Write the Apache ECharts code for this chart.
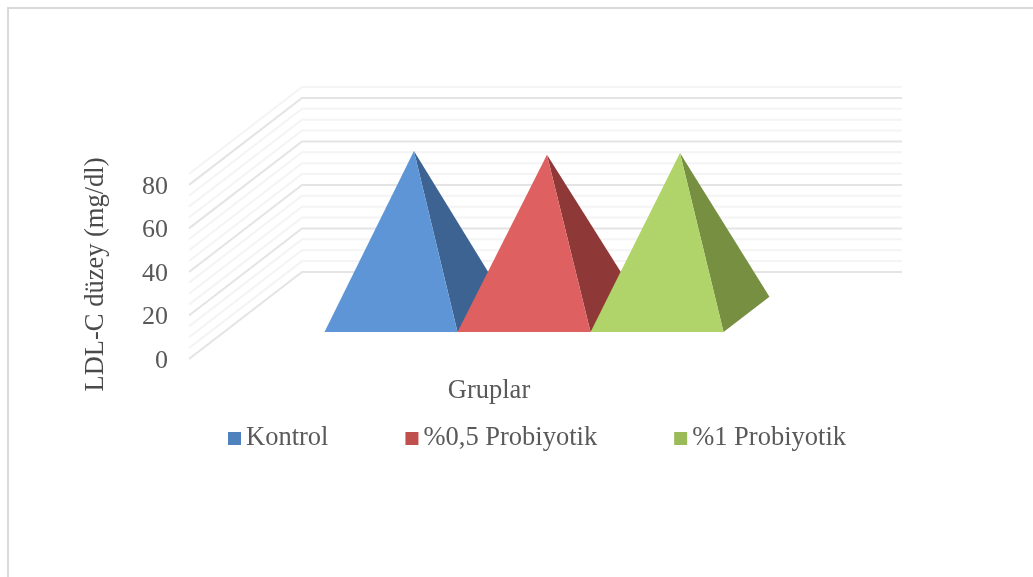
<!DOCTYPE html>
<html>
<head>
<meta charset="utf-8">
<style>html,body{margin:0;padding:0;background:#fff;overflow:hidden}#c{width:1033px;height:577px}</style>
<script src="https://cdn.jsdelivr.net/npm/echarts@6/dist/echarts.min.js"></script>
</head>
<body>
<div id="c"></div>
<script>
var categories = ['Gruplar'];
var seriesNames = ['Kontrol', '%0,5 Probiyotik', '%1 Probiyotik'];
var kontrol = [75.1];
var probiyotik05 = [73.3];
var probiyotik1 = [74.1];
var gridValues = [0,5,10,15,20,25,30,35,40,45,50,55,60,65,70,75,80,85];
var majorValues = [0,20,40,60,80];
var frontColors = ['#5e95d7', '#df6060', '#b0d46a'];
var sideColors = ['#3c6391', '#8f3838', '#768f40'];
var legendColors = ['#4f81bd', '#c0504d', '#9bbb59'];

var FONT = '"Liberation Serif", serif';
var DX = 113, DY = 87;
var D_FRONT = 0.31, D_BACK = 0.716, D_MID = 0.513;
var BAR_FRACTION = 0.2217;

function renderWall(params, api) {
  var v = api.value(0);
  var y = api.coord([0, v])[1];
  var cs = params.coordSys;
  var major = majorValues.indexOf(v) >= 0;
  return {
    type: 'polyline',
    silent: true,
    shape: { points: [[cs.x, y], [cs.x + DX, y - DY], [cs.x + cs.width + DX, y - DY]] },
    style: { fill: null, stroke: major ? '#e4e4e4' : '#f4f4f4', lineWidth: 2 }
  };
}

function renderPyramid(params, api) {
  var i = params.seriesIndex - 1;
  var base = api.coord([0, 0]);
  var top = api.coord([0, api.value(1)]);
  var w = api.size([1, 0])[0] * BAR_FRACTION;
  var cx = base[0] + (i - 1) * w;
  var fl = [cx - w / 2 + D_FRONT * DX, base[1] - D_FRONT * DY];
  var fr = [cx + w / 2 + D_FRONT * DX, base[1] - D_FRONT * DY];
  var br = [cx + w / 2 + D_BACK * DX, base[1] - D_BACK * DY];
  var apex = [cx + D_MID * DX, top[1] - D_MID * DY];
  return {
    type: 'group',
    children: [
      { type: 'polygon', shape: { points: [fr, apex, br] }, style: { fill: sideColors[i] } },
      { type: 'polygon', shape: { points: [fl, fr, apex] }, style: { fill: frontColors[i] } }
    ]
  };
}

function pyramidSeries(idx, values) {
  return {
    type: 'custom',
    name: seriesNames[idx],
    coordinateSystem: 'cartesian2d',
    renderItem: renderPyramid,
    itemStyle: { color: legendColors[idx] },
    encode: { x: 0, y: 1 },
    data: values.map(function (v) { return [0, v]; })
  };
}

var chart = echarts.init(document.getElementById('c'), null, { renderer: 'canvas' });
chart.setOption({
  animation: false,
  backgroundColor: '#ffffff',
  graphic: [{
    type: 'rect',
    silent: true,
    shape: { x: 8, y: 8, width: 1100, height: 700 },
    style: { fill: null, stroke: '#d9d9d9', lineWidth: 2 }
  }],
  grid: { left: 189, width: 600, top: 174, height: 185 },
  legend: {
    left: 228,
    top: 425,
    padding: 0,
    itemWidth: 13,
    itemHeight: 13,
    itemGap: 77,
    icon: 'rect',
    selectedMode: false,
    data: seriesNames.map(function (n, i) { return { name: n, itemStyle: { color: legendColors[i] } }; }),
    textStyle: { fontFamily: FONT, fontSize: 26.5, color: '#595959' }
  },
  xAxis: {
    type: 'category',
    data: categories,
    name: categories[0],
    nameLocation: 'middle',
    nameGap: 19,
    nameTextStyle: { fontFamily: FONT, fontSize: 26.5, color: '#595959' },
    axisLine: { show: false },
    axisTick: { show: false },
    axisLabel: { show: false },
    splitLine: { show: false }
  },
  yAxis: {
    type: 'value',
    min: 0,
    max: 85,
    interval: 20,
    name: 'LDL-C düzey (mg/dl)',
    nameLocation: 'middle',
    nameGap: 79,
    nameTextStyle: { fontFamily: FONT, fontSize: 26.5, color: '#4a4a4a', padding: [0, 16, 0, 0] },
    axisLine: { show: false },
    axisTick: { show: false },
    splitLine: { show: false },
    axisLabel: {
      showMaxLabel: false,
      margin: 21,
      formatter: '{a|{value}}',
      rich: { a: { padding: [4, 0, 0, 0], fontFamily: FONT, fontSize: 26, color: '#595959' } }
    }
  },
  series: [
    {
      type: 'custom',
      name: 'Duvar',
      coordinateSystem: 'cartesian2d',
      renderItem: renderWall,
      silent: true,
      encode: { y: 0 },
      data: gridValues.map(function (v) { return [v]; })
    },
    pyramidSeries(0, kontrol),
    pyramidSeries(1, probiyotik05),
    pyramidSeries(2, probiyotik1)
  ]
});
</script>
</body>
</html>
